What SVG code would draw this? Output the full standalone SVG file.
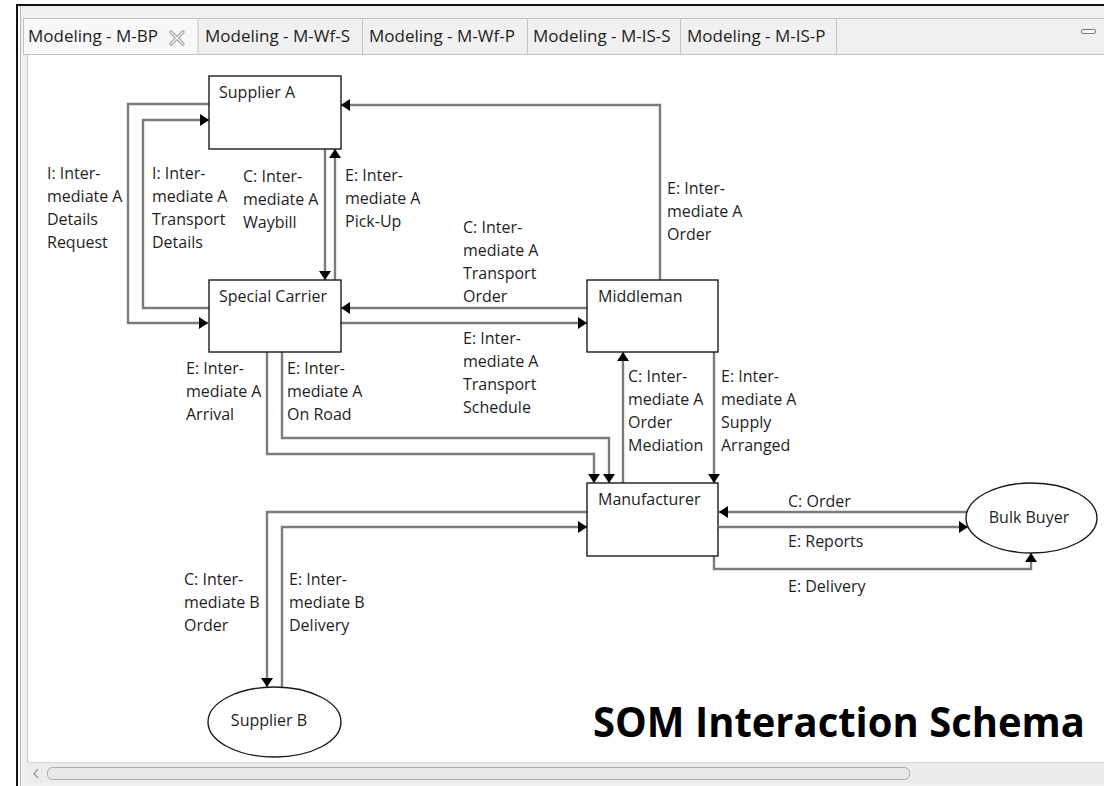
<svg xmlns="http://www.w3.org/2000/svg" width="1104" height="786" viewBox="0 0 1104 786">
<style>
.lbl{font-family:"Open Sans","Noto Sans","Liberation Sans",sans-serif;font-size:16px;fill:#1e1e1e}
.tab{font-family:"Open Sans","Noto Sans","Liberation Sans",sans-serif;font-size:17px;fill:#1e1e1e}
.node{fill:#fff;stroke:#1a1a1a;stroke-width:1.4}
.conn{fill:none;stroke:#7c7c7c;stroke-width:2.4;marker-end:url(#ah)}
.title{font-family:"Open Sans","Noto Sans","Liberation Sans",sans-serif;font-weight:700;font-size:41px;fill:#000}
.sep{stroke:#c4c4c4;stroke-width:1}
</style>
<defs>
<marker id="ah" markerUnits="userSpaceOnUse" markerWidth="10" markerHeight="12" refX="9" refY="6" orient="auto"><path d="M0,0 L9,6 L0,12 z" fill="#000"/></marker>
</defs>
<g id="frame">
<rect x="0" y="0" width="1104" height="786" fill="#fff"/>
<rect x="20" y="6" width="1084" height="780" fill="#f0f0f0"/>
<rect x="27" y="55" width="1077" height="707" fill="#fff"/>
<line x1="27.5" y1="55" x2="27.5" y2="762" class="sep"/>
<rect x="16" y="4" width="1088" height="2" fill="#111"/>
<rect x="16" y="4" width="2" height="782" fill="#111"/>
<line x1="20.5" y1="6" x2="20.5" y2="786" stroke="#b8b8b8"/>
<line x1="23" y1="18.5" x2="1104" y2="18.5" class="sep"/>
<line x1="23" y1="54.5" x2="1104" y2="54.5" class="sep"/>
<rect x="23.5" y="18.5" width="174.5" height="36" fill="#f8f8f8" stroke="#c4c4c4"/>
<line x1="362.5" y1="18" x2="362.5" y2="54" class="sep"/>
<line x1="527.5" y1="18" x2="527.5" y2="54" class="sep"/>
<line x1="680.5" y1="18" x2="680.5" y2="54" class="sep"/>
<line x1="836.5" y1="18" x2="836.5" y2="54" class="sep"/>
<text class="tab" x="28" y="42">Modeling - M-BP</text>
<path d="M171,32 L183,44 M183,32 L171,44" stroke="#9a9a9a" stroke-width="3.2" stroke-linecap="round"/>
<path d="M171,32 L183,44 M183,32 L171,44" stroke="#fff" stroke-width="1.2" stroke-linecap="round"/>
<text class="tab" x="205" y="42">Modeling - M-Wf-S</text>
<text class="tab" x="369" y="42">Modeling - M-Wf-P</text>
<text class="tab" x="533" y="42">Modeling - M-IS-S</text>
<text class="tab" x="687" y="42">Modeling - M-IS-P</text>
<rect x="1081.5" y="29.5" width="14" height="4" rx="1.5" fill="#fff" stroke="#777"/>
<rect x="27" y="762" width="1077" height="21" fill="#ececec"/>
<line x1="27" y1="762.5" x2="1104" y2="762.5" stroke="#d6d6d6"/>
<rect x="47.5" y="767.5" width="862" height="12" rx="5" fill="#e8e8e8" stroke="#ababab"/>
<polyline points="38,769 34,773.5 38,778" fill="none" stroke="#999" stroke-width="1.2"/>
</g>
<g id="connectors">
<path class="conn" d="M209,104 H128 V323 H208"/>
<path class="conn" d="M209,308 H143 V120 H209"/>
<path class="conn" d="M325,149 V280"/>
<path class="conn" d="M335,280 V149"/>
<path class="conn" d="M660,280 V105 H341"/>
<path class="conn" d="M587,308 H341"/>
<path class="conn" d="M341,323 H587"/>
<path class="conn" d="M267,352 V454 H594 V483"/>
<path class="conn" d="M282,352 V438 H609 V483"/>
<path class="conn" d="M623,483 V352"/>
<path class="conn" d="M714,352 V483"/>
<path class="conn" d="M967,512 H719"/>
<path class="conn" d="M719,527 H968"/>
<path class="conn" d="M714,556 V569 H1031 V553"/>
<path class="conn" d="M587,512 H267 V687"/>
<path class="conn" d="M282,687 V527 H587"/>
</g>
<g id="labels">
<text class="lbl" x="47" y="179"><tspan x="47">I: Inter-</tspan><tspan x="47" dy="23">mediate A</tspan><tspan x="47" dy="23">Details</tspan><tspan x="47" dy="23">Request</tspan></text>
<text class="lbl" x="152" y="179"><tspan x="152">I: Inter-</tspan><tspan x="152" dy="23">mediate A</tspan><tspan x="152" dy="23">Transport</tspan><tspan x="152" dy="23">Details</tspan></text>
<text class="lbl" x="243" y="182"><tspan x="243">C: Inter-</tspan><tspan x="243" dy="23">mediate A</tspan><tspan x="243" dy="23">Waybill</tspan></text>
<text class="lbl" x="345" y="181"><tspan x="345">E: Inter-</tspan><tspan x="345" dy="23">mediate A</tspan><tspan x="345" dy="23">Pick-Up</tspan></text>
<text class="lbl" x="667" y="194"><tspan x="667">E: Inter-</tspan><tspan x="667" dy="23">mediate A</tspan><tspan x="667" dy="23">Order</tspan></text>
<text class="lbl" x="463" y="233"><tspan x="463">C: Inter-</tspan><tspan x="463" dy="23">mediate A</tspan><tspan x="463" dy="23">Transport</tspan><tspan x="463" dy="23">Order</tspan></text>
<text class="lbl" x="463" y="344"><tspan x="463">E: Inter-</tspan><tspan x="463" dy="23">mediate A</tspan><tspan x="463" dy="23">Transport</tspan><tspan x="463" dy="23">Schedule</tspan></text>
<text class="lbl" x="186" y="374"><tspan x="186">E: Inter-</tspan><tspan x="186" dy="23">mediate A</tspan><tspan x="186" dy="23">Arrival</tspan></text>
<text class="lbl" x="287" y="374"><tspan x="287">E: Inter-</tspan><tspan x="287" dy="23">mediate A</tspan><tspan x="287" dy="23">On Road</tspan></text>
<text class="lbl" x="628" y="382"><tspan x="628">C: Inter-</tspan><tspan x="628" dy="23">mediate A</tspan><tspan x="628" dy="23">Order</tspan><tspan x="628" dy="23">Mediation</tspan></text>
<text class="lbl" x="721" y="382"><tspan x="721">E: Inter-</tspan><tspan x="721" dy="23">mediate A</tspan><tspan x="721" dy="23">Supply</tspan><tspan x="721" dy="23">Arranged</tspan></text>
<text class="lbl" x="788" y="507">C: Order</text>
<text class="lbl" x="788" y="547">E: Reports</text>
<text class="lbl" x="788" y="592">E: Delivery</text>
<text class="lbl" x="184" y="585"><tspan x="184">C: Inter-</tspan><tspan x="184" dy="23">mediate B</tspan><tspan x="184" dy="23">Order</tspan></text>
<text class="lbl" x="289" y="585"><tspan x="289">E: Inter-</tspan><tspan x="289" dy="23">mediate B</tspan><tspan x="289" dy="23">Delivery</tspan></text>
</g>
<g id="supplier-a"><rect class="node" x="209" y="76" width="132" height="73"/><text class="lbl" x="219" y="98">Supplier A</text></g>
<g id="special-carrier"><rect class="node" x="209" y="280" width="132" height="72"/><text class="lbl" x="219" y="302">Special Carrier</text></g>
<g id="middleman"><rect class="node" x="587" y="280" width="131" height="72"/><text class="lbl" x="598" y="302">Middleman</text></g>
<g id="manufacturer"><rect class="node" x="587" y="483" width="131" height="73"/><text class="lbl" x="598" y="505">Manufacturer</text></g>
<g id="bulk-buyer"><ellipse class="node" cx="1031.5" cy="518" rx="65.5" ry="35"/><text class="lbl" x="1029" y="523" text-anchor="middle">Bulk Buyer</text></g>
<g id="supplier-b"><ellipse class="node" cx="274.5" cy="722" rx="66.5" ry="35"/><text class="lbl" x="269" y="726" text-anchor="middle">Supplier B</text></g>
<g id="title"><text class="title" x="593" y="737" textLength="492" lengthAdjust="spacingAndGlyphs">SOM Interaction Schema</text></g>
</svg>
